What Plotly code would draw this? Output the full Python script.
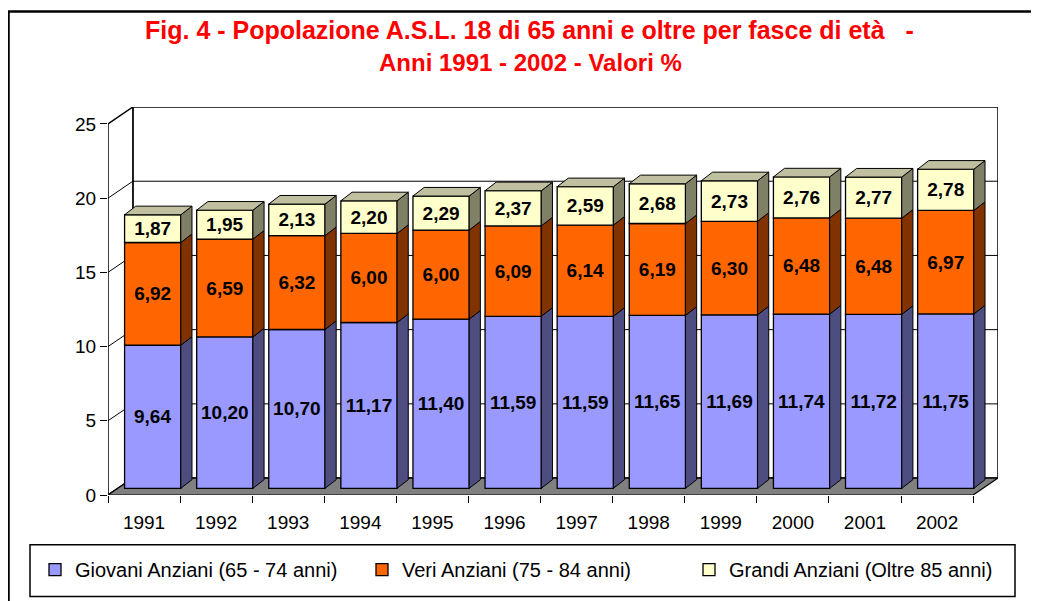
import plotly.graph_objects as go

# ---------------- data ----------------
years = ["1991", "1992", "1993", "1994", "1995", "1996",
         "1997", "1998", "1999", "2000", "2001", "2002"]
giovani = [9.64, 10.20, 10.70, 11.17, 11.40, 11.59, 11.59, 11.65, 11.69, 11.74, 11.72, 11.75]
veri = [6.92, 6.59, 6.32, 6.00, 6.00, 6.09, 6.14, 6.19, 6.30, 6.48, 6.48, 6.97]
grandi = [1.87, 1.95, 2.13, 2.20, 2.29, 2.37, 2.59, 2.68, 2.73, 2.76, 2.77, 2.78]
series_names = ["Giovani Anziani (65 - 74 anni)",
                "Veri Anziani (75 - 84 anni)",
                "Grandi Anziani (Oltre 85 anni)"]
y_ticks = [0, 5, 10, 15, 20, 25]
title_l1 = "Fig. 4 - Popolazione A.S.L. 18 di 65 anni e oltre per fasce di età\u00a0\u00a0 -"
title_l2 = "Anni 1991 - 2002 - Valori %"

# ---------------- styling ----------------
FONT = "Arial, Liberation Sans, sans-serif"
front_colors = ["#9999FF", "#FF6600", "#FFFFCC"]
side_colors = ["#4D4D80", "#803300", "#808066"]
top_color = "#C0C0A0"
floor_color = "#808080"

# page is 1039x601; the figure sits inside the body's 8px margin
OFF = 8
FIG_W, FIG_H = 1039 - OFF, 601 - OFF
ML, MT = 108 - OFF, 107 - OFF
MR = FIG_W - (998 - OFF)
MB = FIG_H - (497 - OFF)
PW, PH = FIG_W - ML - MR, FIG_H - MT - MB

def pxx(px):  # page pixel -> paper x
    return (px - OFF - ML) / PW

def pxy(py):  # page pixel -> paper y
    return (FIG_H - MB - (py - OFF)) / PH

# pseudo-3D geometry (in data units)
N = len(years)
YMAX = y_ticks[-1]
DX, DY = 0.345, 1.14          # wall depth
BAR_W = 0.78
BAR_SHIFT = 0.12
BAR_BASE = 0.45
BDX, BDY = 0.155, 0.58         # bar depth

idx = list(range(N))
fmt = lambda v: f"{v:.2f}".replace(".", ",")

fig = go.Figure()

values = [giovani, veri, grandi]
cum = [0.0] * N
for s, vals in enumerate(values):
    base = [BAR_BASE + c for c in cum]
    fig.add_trace(go.Bar(
        x=idx, y=vals, base=base, name=series_names[s],
        width=BAR_W, offset=BAR_SHIFT - BAR_W / 2,
        marker=dict(color=front_colors[s], line=dict(color="black", width=1.3)),
        text=[fmt(v) for v in vals], textposition="inside",
        insidetextanchor="middle", textangle=0, constraintext="none",
        textfont=dict(family=FONT, size=19, color="black", weight="bold"),
        hoverinfo="skip",
    ))
    sx, sy = [], []
    for i in range(N):
        x1 = i + BAR_SHIFT + BAR_W / 2
        b = base[i]
        t = base[i] + vals[i]
        sx += [x1, x1, x1 + BDX, x1 + BDX, x1, None]
        sy += [b, t, t + BDY, b + BDY, b, None]
    fig.add_trace(go.Scatter(
        x=sx, y=sy, mode="lines", fill="toself", fillcolor=side_colors[s],
        line=dict(color="black", width=1), showlegend=False, hoverinfo="skip",
    ))
    cum = [c + v for c, v in zip(cum, vals)]

# top faces of the stacks
tx, ty = [], []
for i in range(N):
    x0 = i + BAR_SHIFT - BAR_W / 2
    x1 = i + BAR_SHIFT + BAR_W / 2
    t = BAR_BASE + cum[i]
    tx += [x0, x1, x1 + BDX, x0 + BDX, x0, None]
    ty += [t, t, t + BDY, t + BDY, t, None]
fig.add_trace(go.Scatter(
    x=tx, y=ty, mode="lines", fill="toself", fillcolor=top_color,
    line=dict(color="black", width=1), showlegend=False, hoverinfo="skip",
))

# ---------------- walls / floor ----------------
xl, xr = -0.5, N - 0.5
shapes = []
shapes.append(dict(type="rect", xref="x", yref="y", layer="below",
                   x0=xl + DX, y0=DY, x1=xr + DX, y1=YMAX + DY,
                   fillcolor="white", line=dict(color="black", width=1.5)))
shapes.append(dict(type="path", xref="x", yref="y", layer="below",
                   path=f"M{xl},0 L{xl},{YMAX} L{xl + DX},{YMAX + DY} L{xl + DX},{DY} Z",
                   fillcolor="white", line=dict(color="black", width=1.5)))
for v in y_ticks[1:-1]:
    shapes.append(dict(type="line", xref="x", yref="y", layer="below",
                       x0=xl + DX, y0=v + DY, x1=xr + DX, y1=v + DY,
                       line=dict(color="black", width=1)))
    shapes.append(dict(type="line", xref="x", yref="y", layer="below",
                       x0=xl, y0=v, x1=xl + DX, y1=v + DY,
                       line=dict(color="black", width=1)))
shapes.append(dict(type="path", xref="x", yref="y", layer="below",
                   path=f"M{xl},0 L{xr},0 L{xr + DX},{DY} L{xl + DX},{DY} Z",
                   fillcolor=floor_color, line=dict(color="black", width=1.2)))

# legend box and outer frame
shapes.append(dict(type="rect", xref="paper", yref="paper",
                   x0=pxx(30), x1=pxx(1015), y0=pxy(599), y1=pxy(547),
                   line=dict(color="black", width=1.5), fillcolor="rgba(0,0,0,0)"))
shapes.append(dict(type="rect", xref="paper", yref="paper",
                   x0=pxx(8.5), x1=pxx(1060), y0=pxy(620), y1=pxy(11),
                   line=dict(color="black", width=2.5), fillcolor="rgba(0,0,0,0)"))

annotations = [
    dict(text=title_l1, xref="paper", yref="paper", x=pxx(529), y=pxy(30),
         xanchor="center", yanchor="middle", showarrow=False,
         font=dict(family=FONT, size=25, color="#FF0000", weight="bold")),
    dict(text=title_l2, xref="paper", yref="paper", x=pxx(530), y=pxy(62),
         xanchor="center", yanchor="middle", showarrow=False,
         font=dict(family=FONT, size=24, color="#FF0000", weight="bold")),
]

fig.update_layout(
    width=FIG_W, height=FIG_H,
    margin=dict(l=ML, r=MR, t=MT, b=MB),
    paper_bgcolor="white", plot_bgcolor="white",
    barmode="overlay",
    font=dict(family=FONT, color="black"),
    shapes=shapes, annotations=annotations,
    showlegend=True,
    legend=dict(orientation="h", xref="paper", yref="paper",
                x=pxx(35), y=pxy(572), xanchor="left", yanchor="middle",
                entrywidth=282, bgcolor="rgba(0,0,0,0)", borderwidth=0,
                font=dict(family=FONT, size=20, color="black")),
    xaxis=dict(range=[xl, xr + DX], tickvals=idx, ticktext=years,
               showgrid=False, zeroline=False, showline=False, ticks="",
               tickfont=dict(family=FONT, size=19, color="black"),
               ticklabelstandoff=14,
               minor=dict(tickvals=[i - 0.5 for i in range(N + 1)], ticks="outside",
                          ticklen=7, tickwidth=1, tickcolor="black", showgrid=False)),
    yaxis=dict(range=[0, YMAX + DY], tickvals=y_ticks,
               showgrid=False, zeroline=False, showline=False,
               ticks="outside", ticklen=7, tickwidth=1, tickcolor="black",
               tickfont=dict(family=FONT, size=19, color="black")),
)

fig.write_html("out.html")
